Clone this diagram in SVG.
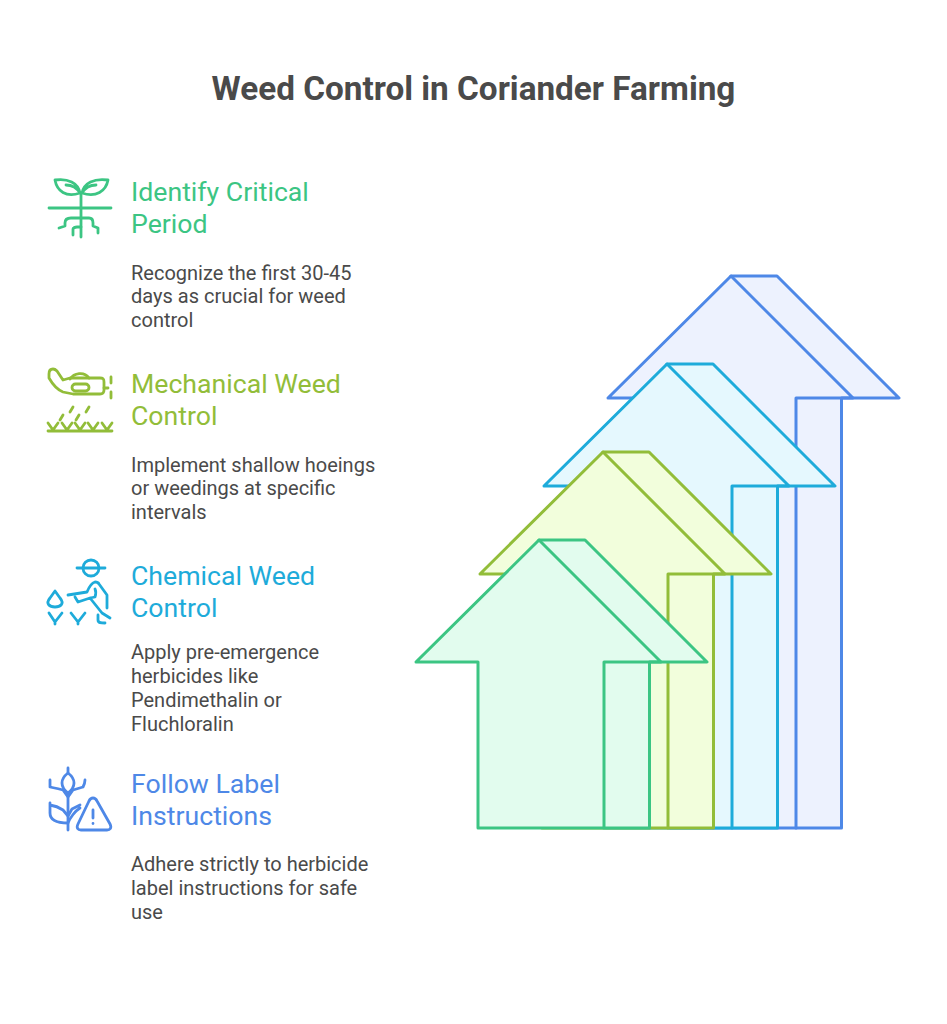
<svg xmlns="http://www.w3.org/2000/svg" width="947" height="1024" viewBox="0 0 947 1024">
<style>
text{font-family:Roboto,"Liberation Sans",sans-serif}
.t{font-size:33.3px;font-weight:700;fill:#4a4a4a}
.h{font-size:26.67px;fill:currentColor}
.b{font-size:20px;fill:#4a4a4a}
.s{stroke-width:3;stroke-linejoin:round;stroke-linecap:round}
.i{fill:none;stroke-width:2.800;stroke-linejoin:round;stroke-linecap:round}
.g{color:#3cc583}.y{color:#92bd39}.c{color:#1eabda}.p{color:#4e88e7}
.g,.y,.c,.p{stroke:currentColor}
.g text,.y text,.c text,.p text{stroke:none}
</style>
<rect width="947" height="1024" fill="#fff"/>
<text id="title" class="t" x="473.500" y="100" text-anchor="middle">Weed Control in Coriander Farming</text>
<g id="arrows">
<g id="arrow-4" class="p s" fill="#edf2fe"><path d="M731 276H777L899 398H841.500V828H670V398H608Z"/><path d="M731 276L853 398H796V828" fill="none"/></g>
<g id="arrow-3" class="c s" fill="#e5f8fe"><path d="M667 364H713L835 486H777.500V828H606V486H544Z"/><path d="M667 364L789 486H732V828" fill="none"/></g>
<g id="arrow-2" class="y s" fill="#f2fedc"><path d="M603 452H649L771 574H713.500V828H542V574H480Z"/><path d="M603 452L725 574H668V828" fill="none"/></g>
<g id="arrow-1" class="g s" fill="#e2fcee"><path d="M539 540H585L707 662H649.500V828H478V662H416Z"/><path d="M539 540L661 662H604V828" fill="none"/></g>
</g>
<g id="step-1" class="g">
<g class="i"><path d="M49 208H111M81 194V237"/><path d="M80 193C78 183 68 178 55 180C57 191 66 198 80 193ZM66 185C72 185 77 188 80 193"/><path d="M82 193C84 183 94 178 108 180C106 191 96 198 82 193ZM96 185C90 185 85 188 82 193"/><path d="M59 228L65 226V223C65 220 67 218 71 218H89C92 218 93 220 93 223V226L98 228V233M73 235V229C73 228 75 227 77 227H81"/></g>
<text class="h" x="131" y="201">Identify Critical</text><text class="h" x="131" y="233">Period</text>
<text class="b" x="131" y="280">Recognize the first 30-45</text><text class="b" x="131" y="303">days as crucial for weed</text><text class="b" x="131" y="327">control</text>
</g>
<g id="step-2" class="y">
<g class="i"><path d="M53 369C50 369 49 371 49 374V378C53 385 58 390 63 392L73 394H100C103 394 104 392 104 390V382C104 379 103 378 100 378H70L63 380L57 371C56 370 55 369 53 369Z"/><path d="M70 379C74 373 84 371 89 378M104 388H108M111 377V383M111 392V398"/><rect x="72" y="384" width="17" height="7" rx="3.500"/><path d="M73 407L70 412M89 407L86 412M63 415L60 420M79 415L76 420"/><path d="M48 431H112M48 423L53 430L58 423M62 423L67 430L72 423M75 423L80 430L85 423M88 423L93 430L98 423M102 423L107 430L112 423"/></g>
<text class="h" x="131" y="393">Mechanical Weed</text><text class="h" x="131" y="425">Control</text>
<text class="b" x="131" y="472">Implement shallow hoeings</text><text class="b" x="131" y="495">or weedings at specific</text><text class="b" x="131" y="519">intervals</text>
</g>
<g id="step-3" class="c">
<g class="i"><path d="M77 568H105"/><circle cx="91" cy="568" r="8"/><path d="M68 595L87 592C89 587 92 583 95 582C97 582 98 582 99 584L107 595V608M75 597L78 602L90 598L95 597C96 594 96 591 95 589M90 598L102 613L110 618"/><path d="M98 615V620C98 623 101 623 105 623"/><path d="M55 591L60 598C65 604 60 607 55 607C50 607 45 604 50 598Z"/><path d="M49 613L55 622L62 613M55 622V624M71 613L78 622L85 613M78 622V624"/></g>
<text class="h" x="131" y="585">Chemical Weed</text><text class="h" x="131" y="617">Control</text>
<text class="b" x="131" y="659">Apply pre-emergence</text><text class="b" x="131" y="683">herbicides like</text><text class="b" x="131" y="707">Pendimethalin or</text><text class="b" x="131" y="731">Fluchloralin</text>
</g>
<g id="step-4" class="p">
<g class="i"><path d="M68 768V773M68 793V830"/><path d="M68 773C60 779 60 787 68 793C76 787 76 779 68 773Z"/><path d="M50 780V787C55 788 60 789 63 790L68 797L73 790L83 787C84 785 85 782 85 780M50 803V813C50 819 55 823 68 823M50 805C57 806 60 808 63 810L68 816M68 816L72 809L80 805M68 823C70 818 75 811 80 808"/><path d="M89 801L78 824C76 828 78 830 81 830H107C110 830 112 828 110 824L97 801C95 797 91 797 89 801Z"/><path d="M93 810V818M93 823.500V823.600"/></g>
<text class="h" x="131" y="793">Follow Label</text><text class="h" x="131" y="825">Instructions</text>
<text class="b" x="131" y="871">Adhere strictly to herbicide</text><text class="b" x="131" y="895">label instructions for safe</text><text class="b" x="131" y="919">use</text>
</g>
</svg>
